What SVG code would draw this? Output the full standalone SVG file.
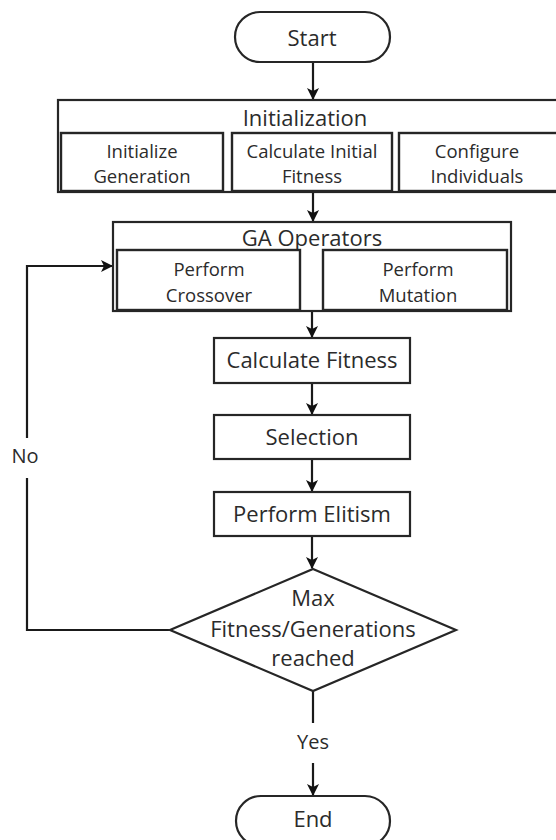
<svg xmlns="http://www.w3.org/2000/svg" width="556" height="840" viewBox="0 0 556 840">
  <style>
    .box { fill: #ffffff; stroke: #262626; stroke-width: 2.2; }
    .sub { fill: #ffffff; stroke: #262626; stroke-width: 2.4; }
    .line { fill: none; stroke: #1a1a1a; stroke-width: 2.2; }
    text { font-family: "Open Sans", "Noto Sans", sans-serif; fill: #2b2b2b; text-anchor: middle; dominant-baseline: central; }
    .t1 { font-size: 22px; }
    .t2 { font-size: 18.5px; }
    .t3 { font-size: 22px; }
    .t4 { font-size: 20px; }
  </style>
  <defs>
    <marker id="arrow" markerWidth="12" markerHeight="12" refX="11" refY="6" orient="auto" markerUnits="userSpaceOnUse">
      <path d="M0,0 L12,6 L0,12 L3,6 Z" fill="#111111"/>
    </marker>
  </defs>
  <rect width="556" height="840" fill="#ffffff"/>

  <g id="connectors">
    <line class="line" x1="313" y1="62" x2="313" y2="99" marker-end="url(#arrow)"/>
    <line class="line" x1="313" y1="192" x2="313" y2="221" marker-end="url(#arrow)"/>
    <line class="line" x1="312" y1="311" x2="312" y2="337" marker-end="url(#arrow)"/>
    <line class="line" x1="312" y1="383" x2="312" y2="414" marker-end="url(#arrow)"/>
    <line class="line" x1="312" y1="459" x2="312" y2="491" marker-end="url(#arrow)"/>
    <line class="line" x1="312" y1="536" x2="312" y2="568" marker-end="url(#arrow)"/>
    <line class="line" x1="313" y1="691" x2="313" y2="723"/>
    <line class="line" x1="313" y1="763" x2="313" y2="795" marker-end="url(#arrow)"/>
    <path class="line" d="M170,630 H27 V478"/>
    <path class="line" d="M27,438 V266 H112" marker-end="url(#arrow)"/>
    <text class="t4" x="25" y="455">No</text>
    <text class="t4" x="313" y="741">Yes</text>
  </g>

  <g id="start">
    <rect class="box" x="235" y="12" width="155" height="50" rx="25"/>
    <text class="t1" x="312" y="37">Start</text>
  </g>

  <g id="initialization">
    <rect class="box" x="58" y="100" width="504" height="92"/>
    <text class="t1" x="305" y="117">Initialization</text>
    <g id="init-generation">
      <rect class="sub" x="61" y="133" width="162" height="58"/>
      <text class="t2" x="142" y="150">Initialize</text>
      <text class="t2" x="142" y="175">Generation</text>
    </g>
    <g id="init-fitness">
      <rect class="sub" x="232" y="133" width="160" height="58"/>
      <text class="t2" x="312" y="150">Calculate Initial</text>
      <text class="t2" x="312" y="175">Fitness</text>
    </g>
    <g id="configure-individuals">
      <rect class="sub" x="399" y="133" width="160" height="58"/>
      <text class="t2" x="477" y="150">Configure</text>
      <text class="t2" x="477" y="175">Individuals</text>
    </g>
  </g>

  <g id="ga-operators">
    <rect class="box" x="113" y="222" width="398" height="89"/>
    <text class="t1" x="312" y="237">GA Operators</text>
    <g id="crossover">
      <rect class="sub" x="117" y="250" width="183" height="60"/>
      <text class="t2" x="209" y="268">Perform</text>
      <text class="t2" x="209" y="294">Crossover</text>
    </g>
    <g id="mutation">
      <rect class="sub" x="323" y="250" width="184" height="60"/>
      <text class="t2" x="418" y="268">Perform</text>
      <text class="t2" x="418" y="294">Mutation</text>
    </g>
  </g>

  <g id="calculate-fitness">
    <rect class="box" x="214" y="338" width="196" height="45"/>
    <text class="t3" x="312" y="359">Calculate Fitness</text>
  </g>

  <g id="selection">
    <rect class="box" x="214" y="415" width="196" height="44"/>
    <text class="t3" x="312" y="436">Selection</text>
  </g>

  <g id="elitism">
    <rect class="box" x="214" y="492" width="196" height="44"/>
    <text class="t3" x="312" y="513">Perform Elitism</text>
  </g>

  <g id="termination">
    <polygon class="box" points="313,569 456,630 313,691 170,630"/>
    <text class="t3" x="313" y="597">Max</text>
    <text class="t3" x="313" y="628">Fitness/Generations</text>
    <text class="t3" x="313" y="657">reached</text>
  </g>

  <g id="end">
    <rect class="box" x="236" y="796" width="154" height="50" rx="25"/>
    <text class="t1" x="313" y="818">End</text>
  </g>
</svg>
